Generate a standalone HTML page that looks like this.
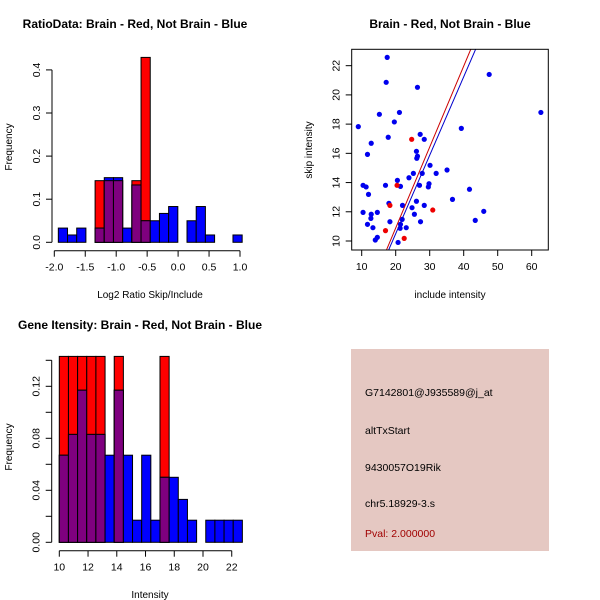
<!DOCTYPE html>
<html><head><meta charset="utf-8"><style>
html,body{margin:0;padding:0;background:#fff}
svg{display:block;font-family:"Liberation Sans",sans-serif}
</style></head><body>
<svg id="s" width="600" height="600" viewBox="0 0 600 600">
<rect width="600" height="600" fill="#fff"/>
<text x="135" y="28" font-size="12" font-weight="bold" text-anchor="middle">RatioData: Brain - Red, Not Brain - Blue</text>
<text x="450" y="28" font-size="12" font-weight="bold" text-anchor="middle">Brain - Red, Not Brain - Blue</text>
<text x="140" y="329" font-size="12" font-weight="bold" text-anchor="middle">Gene Itensity: Brain - Red, Not Brain - Blue</text>
<text x="150" y="298" font-size="10" text-anchor="middle">Log2 Ratio Skip/Include</text>
<text x="12" y="147" font-size="10" text-anchor="middle" transform="rotate(-90 12 147)">Frequency</text>
<text x="450" y="298" font-size="10" text-anchor="middle">include intensity</text>
<text x="312" y="150" font-size="10" text-anchor="middle" transform="rotate(-90 312 150)">skip intensity</text>
<text x="150" y="598" font-size="10" text-anchor="middle">Intensity</text>
<text x="12" y="447" font-size="10" text-anchor="middle" transform="rotate(-90 12 447)">Frequency</text>
<g>
<rect x="351" y="349" width="198" height="202" fill="#e5c8c2"/>
<text x="365" y="396" font-size="10.5">G7142801@J935589@j_at</text>
<text x="365" y="434" font-size="10.5">altTxStart</text>
<text x="365" y="471" font-size="10.5">9430057O19Rik</text>
<text x="365" y="507" font-size="10.5">chr5.18929-3.s</text>
<text x="365" y="537" font-size="10.5" fill="#a00000">Pval: 2.000000</text>
</g>
</svg>
<script>
// ---- Ratio histogram data ----
const ratioBinStart = -1.935;
const ratioBinWidth = 0.1485;
const ratioBlue = [0.033,0.017,0.033,0,0.033,0.15,0.15,0.033,0.133,0.05,0.05,0.067,0.083,0,0.05,0.083,0.017,0,0,0.017];
const ratioRed  = [0,0,0,0,0.143,0.143,0.143,0,0.143,0.429,0,0,0,0,0,0,0,0,0,0];
const ratioXTicks = [-2.0,-1.5,-1.0,-0.5,0.0,0.5,1.0];
const ratioXTickLabels = ["-2.0","-1.5","-1.0","-0.5","0.0","0.5","1.0"];
const ratioYTicks = [0,0.1,0.2,0.3,0.4];
const ratioYTickLabels = ["0.0","0.1","0.2","0.3","0.4"];
// ---- Intensity histogram data ----
const intBinStart = 10;
const intBinWidth = 0.637;
const intBlue = [0.067,0.083,0.117,0.083,0.083,0.067,0.117,0.067,0.017,0.067,0.017,0.05,0.05,0.033,0.017,0,0.017,0.017,0.017,0.017];
const intRed  = [0.143,0.143,0.143,0.143,0.143,0,0.143,0,0,0,0,0.143,0,0,0,0,0,0,0,0];
const intXTicks = [10,12,14,16,18,20,22];
const intYTicks = [0,0.02,0.04,0.06,0.08,0.10,0.12,0.14];
const intYTickLabels = ["0.00","","0.04","","0.08","","0.12",""];
// ---- Scatter data ----
const blueX = [9.0,17.5,17.2,26.4,47.5,62.7,15.2,21.1,19.6,39.3,17.8,12.8,27.2,28.4,11.7,26.1,26.2,26.4,30.1,35.1,31.9,25.2,27.8,23.9,20.5,10.4,11.3,17.0,21.4,27.0,29.8,29.6,41.7,12.0,36.7,26.1,18.0,22.0,28.4,24.8,10.4,14.6,45.9,25.5,12.8,12.7,21.9,18.3,27.3,43.4,11.7,13.3,21.4,23.1,21.3,14.6,14.0,20.7];
const blueY = [17.83,22.57,20.86,20.52,21.4,18.8,18.67,18.8,18.15,17.71,17.1,16.69,17.3,16.96,15.93,16.14,15.66,15.8,15.18,14.86,14.63,14.63,14.63,14.33,14.15,13.81,13.7,13.81,13.74,13.81,13.92,13.7,13.54,13.19,12.85,12.72,12.58,12.44,12.44,12.28,11.96,11.96,12.03,11.83,11.83,11.55,11.48,11.32,11.32,11.41,11.14,10.91,11.14,10.91,10.87,10.25,10.07,9.9];
const redX = [24.7,20.4,18.3,30.9,17.0,22.5];
const redY = [16.96,13.81,12.44,12.12,10.71,10.18];
const redFit = [-0.19,0.554];   // intercept, slope
const blueFit = [-0.24,0.537];
const scXTicks = [10,20,30,40,50,60];
const scYTicks = [10,12,14,16,18,20,22];

const svg = document.getElementById('s');
const NS = 'http://www.w3.org/2000/svg';
function mk(tag, attrs, parent){
  const e = document.createElementNS(NS, tag);
  for (const k in attrs) e.setAttribute(k, attrs[k]);
  (parent||svg).appendChild(e);
  return e;
}
function H(name, xs, ys, binStart, binW, blue, red, xT, xTL, yT, yTL, xAxisY, yAxisX){
  const g = mk('g', {});
  
  
  for (let i=0;i<blue.length;i++){
    const x0 = xs(binStart+i*binW), x1 = xs(binStart+(i+1)*binW);
    const b = blue[i], r = red[i], m = Math.min(b,r);
    if (r>0){
      const e = mk('rect',{x:x0,y:ys(r),width:x1-x0,height:ys(0)-ys(r),fill:'#ff0000',stroke:'#000','stroke-width':1},g);
      
      
    }
    if (b>0){
      const e = mk('rect',{x:x0,y:ys(b),width:x1-x0,height:ys(0)-ys(b),fill:'#0000ff',stroke:'#000','stroke-width':1},g);
      
      
    }
    if (m>0){
      const e = mk('rect',{x:x0,y:ys(m),width:x1-x0,height:ys(0)-ys(m),fill:'#7f007f',stroke:'#000','stroke-width':1},g);
      
      
    }
  }
  const xa = mk('g',{},g);
  
  
  mk('line',{x1:xs(xT[0]),x2:xs(xT[xT.length-1]),y1:xAxisY,y2:xAxisY,stroke:'#000'},xa);
  xT.forEach((v,i)=>{
    mk('line',{x1:xs(v),x2:xs(v),y1:xAxisY,y2:xAxisY+6,stroke:'#000'},xa);
    const t = mk('text',{x:xs(v),y:xAxisY+20,'font-size':10.5,'text-anchor':'middle'},xa);
    t.textContent = xTL[i];
    
    
  });
  const ya = mk('g',{},g);
  
  
  mk('line',{x1:yAxisX,x2:yAxisX,y1:ys(yT[0]),y2:ys(yT[yT.length-1]),stroke:'#000'},ya);
  yT.forEach((v,i)=>{
    mk('line',{x1:yAxisX-6,x2:yAxisX,y1:ys(v),y2:ys(v),stroke:'#000'},ya);
    if (yTL[i]){
      const tx = yAxisX-12, ty = ys(v);
      const t = mk('text',{x:tx,y:ty,'font-size':10.5,'text-anchor':'middle',transform:`rotate(-90 ${tx} ${ty})`},ya);
      t.textContent = yTL[i];
      
      
    }
  });
}
const rX = v => 54.3 + (v+2)*61.9;
const rY = v => 242.3 - v*431;
H('ratio-histogram', rX, rY, ratioBinStart, ratioBinWidth, ratioBlue, ratioRed, ratioXTicks, ratioXTickLabels, ratioYTicks, ratioYTickLabels, 250.7, 52);
const iX = v => 59.3 + (v-10)*14.37;
const iY = v => 542.3 - v*1300;
H('intensity-histogram', iX, iY, intBinStart, intBinWidth, intBlue, intRed, intXTicks, intXTicks.map(String), intYTicks, intYTickLabels, 550.7, 51.7);

// Scatter
const sX = v => 361.7 + (v-10)*3.4;
const sY = v => 241 - (v-10)*14.61;
const sg = mk('g',{});


const L=351.7,R=548.3,T=49.3,B=250;
const cp = mk('clipPath',{id:'scClip'},sg);
mk('rect',{x:L,y:T,width:R-L,height:B-T},cp);
const pts = mk('g',{},sg);


blueX.forEach((x,i)=>{
  const c = mk('circle',{cx:sX(x),cy:sY(blueY[i]),r:2.6,fill:'#0000ee'},pts);
  
  
});
redX.forEach((x,i)=>{
  const c = mk('circle',{cx:sX(x),cy:sY(redY[i]),r:2.6,fill:'#ee0000'},pts);
  
  
});
[[redFit,'#cc0000','red-fit-line'],[blueFit,'#0000cc','blue-fit-line']].forEach(([f,col,nm])=>{
  const x1=0,x2=80;
  const l = mk('line',{x1:sX(x1),y1:sY(f[0]+f[1]*x1),x2:sX(x2),y2:sY(f[0]+f[1]*x2),stroke:col,'stroke-width':1,'clip-path':'url(#scClip)'},sg);
  
  
});
const box = mk('rect',{x:L,y:T,width:R-L,height:B-T,fill:'none',stroke:'#000'},sg);


scXTicks.forEach(v=>{
  mk('line',{x1:sX(v),x2:sX(v),y1:B,y2:B+6,stroke:'#000'},sg);
  const t = mk('text',{x:sX(v),y:B+20,'font-size':10.5,'text-anchor':'middle'},sg);
  t.textContent = v;
  
  
});
scYTicks.forEach(v=>{
  mk('line',{x1:L-6,x2:L,y1:sY(v),y2:sY(v),stroke:'#000'},sg);
  const tx=L-12, ty=sY(v);
  const t = mk('text',{x:tx,y:ty,'font-size':10.5,'text-anchor':'middle',transform:`rotate(-90 ${tx} ${ty})`},sg);
  t.textContent = v;
  
  
});
</script>
</body></html>
